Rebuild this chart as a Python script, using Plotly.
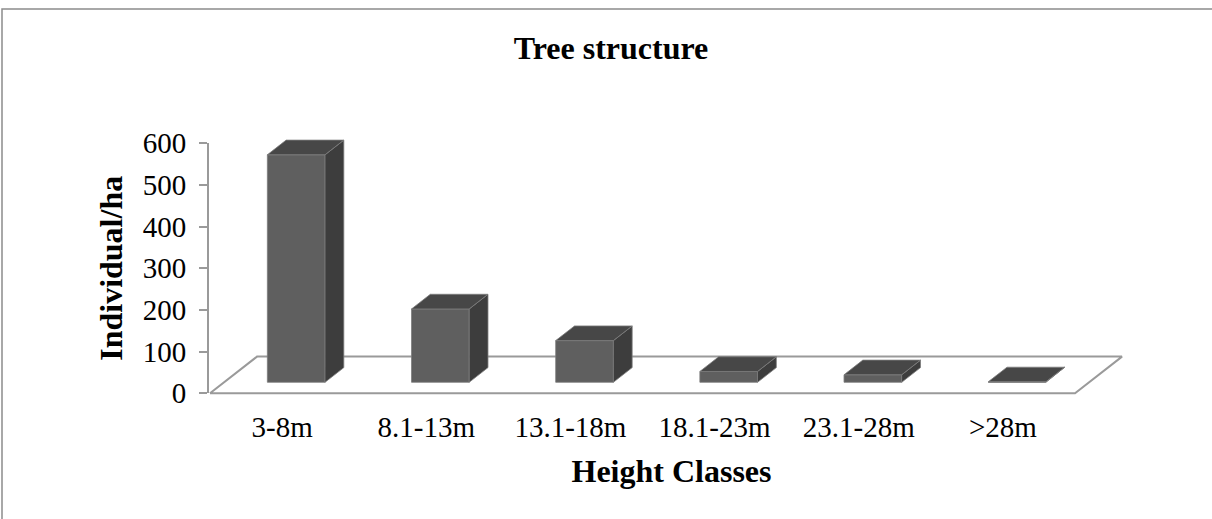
import plotly.graph_objects as go

# Data
categories = ["3-8m", "8.1-13m", "13.1-18m", "18.1-23m", "23.1-28m", ">28m"]
individuals_per_ha = [546, 176, 100, 26, 18, 1]
y_ticks = [0, 100, 200, 300, 400, 500, 600]

# Page / plot geometry (pixels)
W, H = 1212, 519
L, R, T, B = 208, 77, 135, 123
PLOT_W = W - L - R
PLOT_H = H - T - B
CAT_PX = 144.17          # width of one category on the floor front edge
FLOOR_LEFT_PX = 210      # front-left corner of the floor
ZERO_PX = 393.3          # value 0 on the front edge
PX_PER_UNIT = 250 / 600  # vertical pixels per value unit

# Oblique depth vector of the floor (pixels -> data units)
DEPTH_DX = 47 / CAT_PX
DEPTH_DY = 36.7 / PX_PER_UNIT
BAR_FRONT, BAR_BACK = 0.3, 0.7   # bar depth position as fraction of floor depth
BAR_HALF = 0.2                   # half bar width, category units

x0 = -0.5 - (FLOOR_LEFT_PX - L) / CAT_PX
x_range = [x0, x0 + PLOT_W / CAT_PX]
y_bottom_px = T + PLOT_H
y_range = [-(y_bottom_px - ZERO_PX) / PX_PER_UNIT, (ZERO_PX - T) / PX_PER_UNIT]

FRONT = "#5f5f5f"
SIDE = "#3d3d3d"
TOP = "#474747"
EDGE = "#7c7c7c"
GRAY = "#9a9a9a"
FONT = "Liberation Serif, Times New Roman, serif"
TICK_SIZE = 29
TITLE_SIZE = 32

fig = go.Figure()

# Floor
n = len(categories)
fx = [-0.5, n - 0.5, n - 0.5 + DEPTH_DX, -0.5 + DEPTH_DX, -0.5]
fy = [0, 0, DEPTH_DY, DEPTH_DY, 0]
fig.add_trace(go.Scatter(x=fx, y=fy, mode="lines", fill="toself",
                         fillcolor="white", line=dict(color=GRAY, width=2),
                         hoverinfo="skip", showlegend=False))

# 3D columns
s = BAR_BACK - BAR_FRONT
for i, v in enumerate(individuals_per_ha):
    xl = i - BAR_HALF + BAR_FRONT * DEPTH_DX
    xr = i + BAR_HALF + BAR_FRONT * DEPTH_DX
    yb = BAR_FRONT * DEPTH_DY
    yt = yb + v
    ox, oy = s * DEPTH_DX, s * DEPTH_DY
    faces = [
        ([xl, xr, xr, xl, xl], [yb, yb, yt, yt, yb], FRONT),
        ([xr, xr + ox, xr + ox, xr, xr], [yb, yb + oy, yt + oy, yt, yb], SIDE),
        ([xl, xr, xr + ox, xl + ox, xl], [yt, yt, yt + oy, yt + oy, yt], TOP),
    ]
    for px_, py_, col in faces:
        fig.add_trace(go.Scatter(x=px_, y=py_, mode="lines", fill="toself",
                                 fillcolor=col, line=dict(color=EDGE, width=0.8),
                                 hoverinfo="skip", showlegend=False))

# Empty trace carrying the value axis
fig.add_trace(go.Scatter(x=[None], y=[None], xaxis="x", yaxis="y2",
                         showlegend=False, hoverinfo="skip"))

dom_lo = (y_bottom_px - ZERO_PX) / PLOT_H
dom_hi = (y_bottom_px - (ZERO_PX - 600 * PX_PER_UNIT)) / PLOT_H

fig.update_layout(
    width=W, height=H,
    margin=dict(l=L, r=R, t=T, b=B),
    paper_bgcolor="white", plot_bgcolor="rgba(0,0,0,0)",
    font=dict(family=FONT, color="black"),
    title=dict(text="Tree structure", x=611 / W, xref="container", xanchor="center",
               y=1 - 48 / H, yref="container", yanchor="middle",
               font=dict(size=TITLE_SIZE, weight="bold", family=FONT, color="black")),
    xaxis=dict(range=x_range, showgrid=False, zeroline=False, showline=False,
               tickmode="array", tickvals=list(range(n)), ticktext=categories,
               ticks="", ticklabelstandoff=11,
               tickfont=dict(size=TICK_SIZE, family=FONT, color="black"),
               title=dict(text="Height Classes", standoff=17,
                          font=dict(size=TITLE_SIZE, weight="bold", family=FONT, color="black"))),
    yaxis=dict(range=y_range, visible=False),
    yaxis2=dict(domain=[dom_lo, dom_hi], range=[0, 600], anchor="free", position=0,
                side="left", showgrid=False, zeroline=False, showline=True,
                linecolor=GRAY, linewidth=2, ticks="outside", ticklen=8, tickwidth=2,
                tickcolor=GRAY, tickmode="array", tickvals=y_ticks, ticklabelstandoff=7,
                tickfont=dict(size=TICK_SIZE, family=FONT, color="black"),
                title=dict(text="Individual/ha", standoff=9,
                           font=dict(size=TITLE_SIZE, weight="bold", family=FONT, color="black"))),
    shapes=[dict(type="rect", xref="paper", yref="paper",
                 x0=(2 - L) / PLOT_W, x1=(W + 5 - L) / PLOT_W,
                 y0=(y_bottom_px - (H + 5)) / PLOT_H, y1=(y_bottom_px - 9) / PLOT_H,
                 line=dict(color="#8c8c8c", width=1.5), fillcolor="rgba(0,0,0,0)",
                 layer="below")],
)

fig.write_html("out.html")
